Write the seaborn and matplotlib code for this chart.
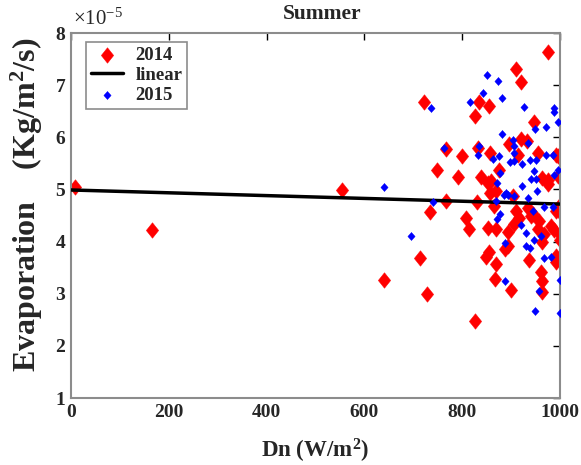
import numpy as np
import pandas as pd
import matplotlib
matplotlib.use("Agg")
import matplotlib.pyplot as plt
import seaborn as sns

# ---- data (Evaporation in units of 1e-5 Kg/m^2/s) ----
dn_2014 = [8, 166, 555, 640, 714, 727, 721, 734, 749, 766, 766, 792, 799, 807, 814,
           826, 826, 831, 834, 832, 838, 848, 855, 852, 852, 855, 857, 857, 859, 865,
           867, 869, 869, 869, 875, 887, 893, 893, 896, 900, 903, 906, 910, 910, 913,
           916, 920, 921, 932, 934, 937, 941, 944, 946, 954, 955, 957, 961, 964, 964,
           964, 964, 967, 975, 975, 975, 981, 988, 992, 992, 992, 992, 995, 995, 998,
           1000, 1000, 1000, 1000]
ev_2014 = [5.05, 4.22, 4.98, 3.26, 3.69, 2.99, 6.67, 4.57, 5.37, 5.78, 4.78, 5.24, 5.65, 4.46, 4.25,
           6.41, 2.48, 4.75, 6.67, 5.80, 5.23, 3.70, 3.80, 5.13, 4.27, 6.60, 5.70, 4.94, 5.16, 4.68,
           3.28, 4.97, 4.24, 3.57, 5.38, 3.85, 4.18, 3.92, 5.88, 3.07, 4.87, 4.33, 7.31, 4.59, 5.67,
           4.46, 7.07, 5.97, 5.92, 4.65, 3.65, 4.49, 4.52, 6.30, 4.24, 5.69, 4.39, 3.42, 5.22, 3.99,
           3.25, 3.03, 4.14, 7.63, 5.10, 5.19, 4.30, 4.23, 5.67, 4.59, 3.72, 3.60, 5.64, 5.25, 4.59,
           4.70, 4.62, 4.14, 4.04]

dn_2015 = [641, 695, 737, 741, 762, 816, 832, 834, 842, 850, 862, 869, 872, 872, 874,
           875, 877, 878, 881, 881, 885, 887, 887, 889, 893, 898, 903, 906, 906, 906,
           906, 921, 922, 923, 926, 930, 930, 934, 934, 938, 939, 941, 944, 947, 947,
           949, 949, 951, 951, 953, 957, 961, 967, 967, 971, 971, 982, 985, 985, 987,
           987, 987, 995, 995, 1000, 1000]
ev_2015 = [5.04, 4.11, 6.57, 4.75, 5.80, 6.67, 5.67, 5.83, 6.85, 7.20, 5.59, 4.78, 5.13, 4.44, 7.08,
           5.64, 4.52, 5.31, 6.75, 6.06, 4.89, 3.98, 3.25, 4.94, 4.89, 5.52, 5.94, 5.84, 5.70, 5.54,
           4.87, 4.31, 5.06, 5.48, 6.58, 4.17, 3.92, 5.89, 4.84, 3.87, 5.56, 5.20, 4.59, 5.35, 4.04,
           6.16, 2.67, 5.56, 5.20, 4.97, 3.06, 4.10, 4.67, 3.68, 6.20, 5.67, 3.70, 5.67, 4.67, 6.56,
           6.48, 5.27, 6.30, 5.38, 3.27, 2.63]

linear_dn = [0, 1000]
linear_ev = [4.99, 4.72]

x_ticks = [0, 200, 400, 600, 800, 1000]
y_ticks = [1, 2, 3, 4, 5, 6, 7, 8]

# ---- style ----
sns.set_style("white")
plt.rcParams["font.family"] = ["Liberation Serif", "DejaVu Serif"]
plt.rcParams["mathtext.fontset"] = "custom"
plt.rcParams["mathtext.rm"] = "Liberation Serif"
plt.rcParams["mathtext.bf"] = "Liberation Serif:bold"
plt.rcParams["mathtext.it"] = "Liberation Serif:italic"

df14 = pd.DataFrame({"Dn": dn_2014, "Ev": ev_2014})
df15 = pd.DataFrame({"Dn": dn_2015, "Ev": ev_2015})
dfl = pd.DataFrame({"Dn": linear_dn, "Ev": linear_ev})

diamond = [(0, 1), (0.8, 0), (0, -1), (-0.8, 0), (0, 1)]
diamond_s = [(0, 1), (0.9, 0), (0, -1), (-0.9, 0), (0, 1)]

fig = plt.figure(figsize=(5.81, 4.65), dpi=100)
ax = fig.add_axes([0.122, 0.144, 0.842, 0.785])

sns.scatterplot(data=df14, x="Dn", y="Ev", ax=ax, marker=diamond, s=125,
                color="#ff0000", edgecolor="#ff0000", linewidth=0.3, label="2014", zorder=2)
sns.lineplot(data=dfl, x="Dn", y="Ev", ax=ax, color="black", linewidth=2.5,
             label="linear", zorder=3)
sns.scatterplot(data=df15, x="Dn", y="Ev", ax=ax, marker=diamond_s, s=34,
                color="#0000ff", edgecolor="#0000ff", linewidth=0.3, label="2015", zorder=4)

ax.set_xlim(0, 1000)
ax.set_ylim(1, 8)
ax.set_xticks(x_ticks)
ax.set_yticks(y_ticks)
ax.set_xticklabels([str(t) for t in x_ticks])
ax.set_yticklabels([str(t) for t in y_ticks])

for sp in ax.spines.values():
    sp.set_visible(True)
    sp.set_color("#8c8c8c")
    sp.set_linewidth(1.5)

ax.tick_params(direction="in", length=5, width=1, color="black",
               top=True, right=True, labelsize=14, pad=4)
for lbl in ax.get_xticklabels() + ax.get_yticklabels():
    lbl.set_fontweight("bold")
    lbl.set_color("#262626")

ax.set_xlabel(r"Dn (W/m$\mathbf{^2}$)", fontsize=16.5, fontweight="bold", color="#262626", labelpad=12)
ax.set_ylabel(r"Evaporation    (Kg/m$\mathbf{^2}$/s)", fontsize=23, fontweight="bold",
              color="#262626")
ax.yaxis.set_label_coords(-0.052, 0.53)
ax.set_title("Summer", fontsize=15.5, fontweight="bold", pad=10, x=0.513)

ax.text(0.005, 1.008, r"$\times10^{-5}$", transform=ax.transAxes, fontsize=15,
        ha="left", va="bottom", color="#262626")

leg = ax.legend(loc="upper left", bbox_to_anchor=(0.031, 0.975), borderaxespad=0,
                frameon=True, fancybox=False, edgecolor="#8c8c8c", framealpha=1,
                prop={"weight": "bold", "size": 13.5}, handlelength=1.7,
                handletextpad=0.7, borderpad=0.25, labelspacing=0.15)
leg.get_frame().set_linewidth(1.2)

fig.savefig("out.png", dpi=100)
